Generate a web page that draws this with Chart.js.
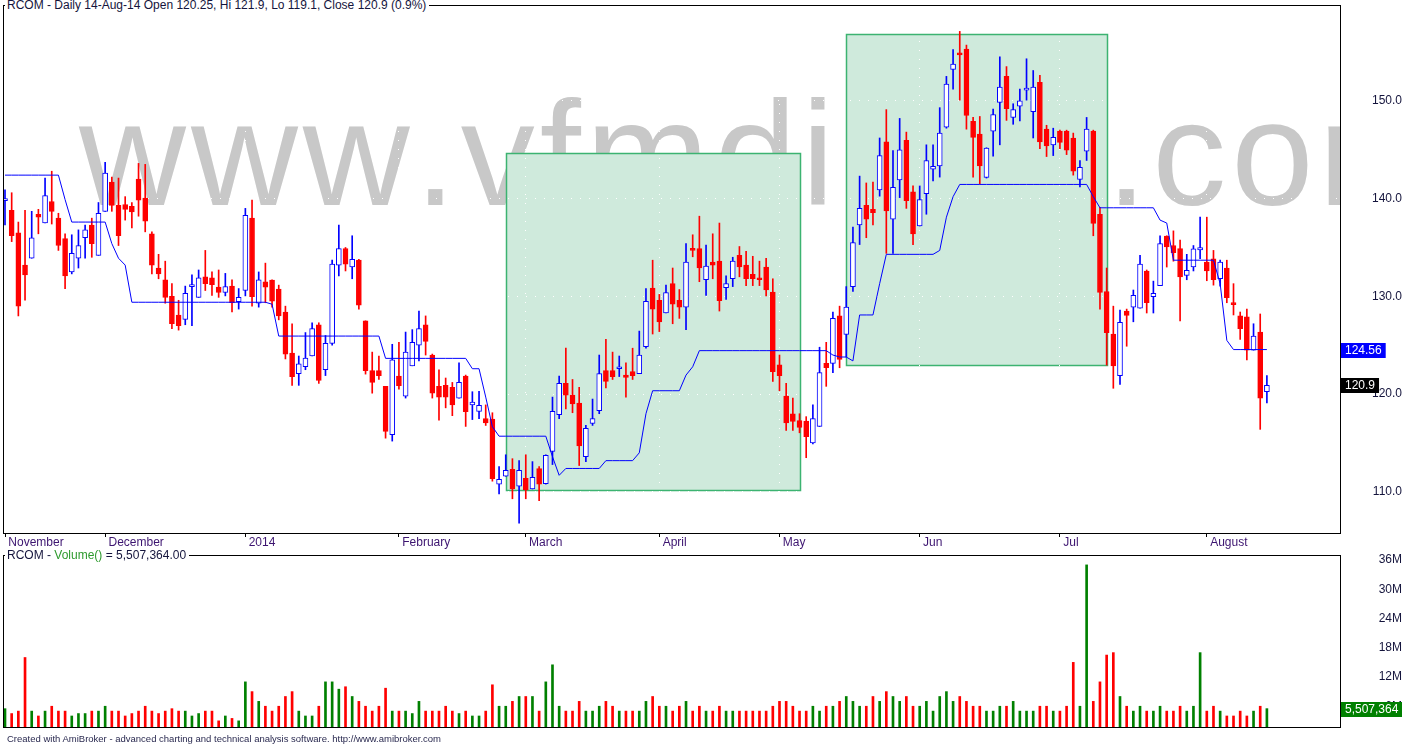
<!DOCTYPE html>
<html>
<head>
<meta charset="utf-8">
<script src="https://cdn.jsdelivr.net/npm/chart.js@4"></script>
<style>
  html, body { margin: 0; padding: 0; background: #fff; }
  body { width: 1402px; height: 746px; position: relative; overflow: hidden; font-family: "Liberation Sans", Arial, sans-serif; }
  #priceWrap { position: absolute; left: 0; top: 0; }
  #volWrap { position: absolute; left: 0; top: 549px; }
  .title { position: absolute; background: #fff; font-size: 12px; line-height: 13px; white-space: nowrap; color: #14143c; padding: 0 3px 0 2px; }
  #priceTitle { left: 5px; top: -1px; }
  #volTitle { left: 5px; top: 549px; }
  #footer { position: absolute; left: 7px; top: 733px; font-size: 9.5px; color: #2a2a50; white-space: nowrap; }
</style>
</head>
<body>
<div id="priceWrap"><canvas id="price" width="1402" height="549"></canvas></div>
<div id="volWrap"><canvas id="vol" width="1402" height="197"></canvas></div>
<div id="priceTitle" class="title">RCOM - Daily 14-Aug-14 Open 120.25, Hi 121.9, Lo 119.1, Close 120.9 (0.9%)</div>
<div id="volTitle" class="title">RCOM - <span style="color:#2e9a2e">Volume()</span> = 5,507,364.00</div>
<div id="footer">Created with AmiBroker - advanced charting and technical analysis software. http://www.amibroker.com</div>

<script>
// daily bars, 8-Nov-2013 .. 14-Aug-2014 (index = trading day)
const opens = [
  139.8,138.8,136.5,133.2,133.9,138.4,137.5,139.7,138.0,135.9,
  132.5,133.9,136.0,137.3,134.2,138.7,141.7,139.3,139.4,139.2,
  142.0,140.05,136.4,132.9,131.7,130.0,128.1,127.65,131.0,129.9,
  132.0,131.9,130.95,130.4,131.05,129.45,130.6,138.0,129.3,131.5,
  131.67,130.75,128.4,124.2,122.1,122.8,123.9,127.1,122.5,125.2,
  133.2,134.9,133.0,133.7,127.5,122.4,122.4,120.8,115.85,121.85,
  119.8,122.9,125.0,127.1,124.0,120.8,120.9,120.7,119.6,121.85,
  118.9,118.24,117.5,117.45,110.8,111.6,112.3,110.6,111.4,110.3,
  112.4,110.84,114.15,117.9,121.1,119.9,119.1,113.6,117.0,118.3,
  122.4,122.4,122.6,121.95,122.3,122.1,124.85,130.85,129.6,128.3,
  131.3,129.6,128.9,134.9,134.9,131.7,133.5,133.6,130.9,131.8,
  134.2,133.2,132.25,131.9,133.0,130.44,123.0,119.8,118.0,117.3,
  117.25,115.0,116.7,123.15,123.15,128.0,126.1,131.0,137.3,139.3,
  138.9,140.9,145.8,137.9,141.9,145.95,140.7,137.2,140.5,143.0,
  143.35,147.3,153.2,154.9,155.3,147.9,146.6,142.16,146.9,149.84,
  152.5,148.3,149.46,151.1,148.9,151.9,147.1,145.5,146.9,146.9,
  146.2,141.96,144.86,146.9,138.4,130.5,126.15,121.9,128.5,128.9,
  128.8,132.6,129.96,131.1,136.16,135.2,134.9,132.15,133.0,134.76,
  133.5,133.85,131.8,132.9,129.25,128.0,127.9,124.5,126.35,120.25
];
const highs = [
  140.9,140.6,137.6,138.8,138.7,138.9,142.1,142.8,138.5,136.4,
  136.3,136.8,137.3,138.0,139.6,143.7,142.2,142.1,140.2,139.6,
  143.6,143.5,136.6,134.3,133.6,131.3,129.6,131.05,132.2,132.7,
  134.7,132.5,132.7,132.35,131.7,130.8,139.0,139.85,132.5,133.4,
  131.7,131.15,129.0,127.2,123.9,126.3,127.3,127.3,126.0,133.7,
  137.3,135.0,136.2,133.8,127.5,124.3,123.9,120.8,125.1,125.3,
  126.35,126.6,128.5,128.0,124.1,122.5,121.65,121.2,123.2,121.95,
  120.25,120.3,118.9,118.1,112.6,113.8,113.4,113.2,113.8,113.1,
  112.6,113.8,119.7,121.85,124.7,121.5,120.7,116.8,119.5,124.0,
  125.6,124.3,123.9,123.2,124.7,126.45,130.8,133.7,130.2,131.15,
  132.9,130.7,135.4,136.3,138.2,135.25,136.4,137.5,132.1,134.0,
  135.1,134.6,134.1,133.6,133.9,131.8,124.0,121.1,119.6,118.0,
  117.7,118.9,124.8,125.3,128.4,129.0,131.0,137.1,142.3,141.6,
  141.7,146.2,149.1,144.9,148.2,146.8,141.3,141.3,145.5,145.5,
  149.3,152.5,155.25,157.1,155.7,148.3,148.4,145.2,149.15,154.5,
  153.5,149.7,151.2,154.3,153.1,152.6,147.5,147.2,147.0,147.0,
  146.7,143.9,148.3,147.0,139.1,132.9,129.0,128.6,128.7,130.65,
  134.2,132.7,131.56,136.2,136.2,136.7,135.75,134.3,135.2,138.1,
  138.1,134.7,133.7,133.7,131.3,128.4,128.7,127.2,128.2,121.9
];
const lows = [
  137.3,135.6,128.0,129.6,133.9,136.4,137.5,137.4,134.7,130.8,
  132.3,132.9,133.9,134.0,134.2,138.7,138.7,135.2,137.8,137.0,
  138.2,136.6,132.3,131.8,129.3,126.7,126.55,127.1,127.0,129.9,
  130.6,130.1,129.9,130.05,128.4,128.7,130.05,129.0,128.9,129.35,
  128.9,127.6,123.6,120.9,120.9,122.5,123.9,121.1,121.9,125.0,
  132.1,132.6,131.8,128.7,122.05,120.1,121.5,115.5,115.2,120.5,
  119.6,122.9,123.4,124.0,119.6,117.35,118.6,117.8,119.6,116.7,
  117.4,117.5,116.8,111.1,109.8,111.6,109.3,106.8,109.3,110.3,
  109.1,110.8,112.8,117.5,118.5,118.1,112.7,113.1,116.8,118.0,
  120.65,121.5,121.8,119.7,121.5,122.1,124.7,126.15,126.4,128.3,
  127.2,127.75,126.6,134.05,131.5,130.1,131.8,128.5,129.7,131.0,
  132.0,131.1,131.1,131.1,130.05,121.3,120.35,116.3,116.3,116.05,
  113.5,114.9,116.7,120.8,122.2,122.7,123.8,130.5,135.3,136.0,
  137.3,140.25,134.4,134.4,140.1,139.0,135.3,137.2,138.4,141.8,
  142.2,147.2,151.2,150.07,147.1,142.2,141.5,142.1,144.35,145.5,
  148.0,147.6,147.95,150.07,146.2,145.1,144.3,144.4,145.1,144.5,
  142.4,141.2,143.9,136.2,128.7,122.97,120.6,121.0,124.9,127.4,
  128.8,128.3,128.3,131.1,133.0,133.6,127.5,131.7,132.6,133.85,
  131.6,131.15,131.05,129.35,128.1,125.6,123.5,124.5,116.4,119.1
];
const closes = [
  139.9,136.2,129.0,132.2,136.0,138.1,140.3,138.7,135.2,132.1,
  134.4,135.2,136.8,135.4,138.5,142.6,139.3,136.2,138.9,138.65,
  139.85,137.7,133.2,132.3,129.9,127.2,127.0,130.3,131.1,131.9,
  131.3,131.2,130.4,131.0,129.35,129.9,138.3,129.96,131.7,130.95,
  129.5,128.0,124.1,121.8,123.1,123.7,126.7,121.4,125.2,133.3,
  134.9,133.3,133.8,129.1,122.4,121.2,121.9,116.2,123.5,120.86,
  124.3,125.3,126.7,125.4,120.1,119.7,119.7,118.9,121.2,118.2,
  119.2,118.85,117.07,111.35,111.3,112.2,110.3,112.2,110.2,111.5,
  110.8,113.74,118.24,121.1,119.9,119.0,114.7,116.5,117.5,122.1,
  121.3,121.8,122.7,121.7,121.9,124.0,129.5,128.7,127.4,130.4,
  129.2,128.9,133.5,134.7,132.9,133.1,133.2,129.55,131.3,133.6,
  133.0,131.8,131.8,131.7,130.67,122.3,121.9,117.07,117.2,116.6,
  115.64,117.5,122.2,122.7,127.75,123.55,128.9,135.5,139.0,137.9,
  138.55,144.4,138.75,141.15,145.0,139.8,136.4,139.9,143.9,143.3,
  146.7,151.7,153.75,154.7,148.5,146.26,143.35,145.16,148.6,151.4,
  149.2,149.1,150.0,151.2,151.4,145.8,145.4,146.26,145.75,144.96,
  142.8,143.2,147.1,137.46,130.4,126.3,122.9,127.35,128.06,130.1,
  133.3,129.35,130.3,135.4,135.07,134.46,132.0,132.66,134.87,135.0,
  132.6,131.7,133.5,129.86,129.15,126.7,124.5,125.94,119.6,120.9
];
// trailing stop line (blue)
const stopLine = [
  142.4,142.4,142.4,142.4,142.4,142.4,142.4,142.4,142.4,139.9,
  137.6,137.6,137.6,137.6,137.6,137.6,135.4,133.9,133.2,129.4,
  129.4,129.4,129.4,129.4,129.4,129.4,129.4,129.4,129.4,129.4,
  129.4,129.4,129.4,129.4,129.4,129.4,129.4,129.4,129.4,129.4,
  129.2,125.94,125.94,125.94,125.94,125.94,125.94,125.94,125.94,125.94,
  125.94,125.94,125.94,125.94,125.94,125.94,125.94,123.66,123.66,123.66,
  123.66,123.66,123.66,123.66,123.66,123.66,123.66,123.66,123.66,123.66,
  122.6,122.6,119.7,116.67,115.7,115.7,115.7,115.7,115.7,115.7,
  115.7,115.7,113.6,111.7,112.4,112.4,112.4,112.4,112.4,112.4,
  113.2,113.2,113.2,113.2,113.2,114.0,118.0,120.35,120.35,120.35,
  120.35,120.35,121.95,122.8,124.45,124.45,124.45,124.45,124.45,124.45,
  124.45,124.45,124.45,124.45,124.45,124.45,124.45,124.45,124.45,124.45,
  124.45,124.45,124.45,124.45,124.0,123.8,123.8,123.4,128.1,128.1,
  128.1,131.3,134.3,134.3,134.3,134.3,134.3,134.3,134.3,134.3,
  134.7,138.1,140.2,141.45,141.45,141.45,141.45,141.45,141.45,141.45,
  141.45,141.45,141.45,141.45,141.45,141.45,141.45,141.45,141.45,141.45,
  141.45,141.45,141.45,140.2,139.06,139.06,139.06,139.06,139.06,139.06,
  139.06,139.06,139.06,137.8,137.5,133.7,133.7,133.7,133.7,133.7,
  133.7,133.7,131.3,125.5,124.56,124.56,124.56,124.56,124.56,124.56
];
// volume, millions
const volumes = [
  5.5,4.5,5,16,5,4,5,6,5,5,
  4,4.5,4.5,5,5,6,5,5,4,4.5,
  5,6,5,4.5,5,5.5,5,5,4,4.5,
  5,5,3,4,3.5,3,11,9,7,6,
  5,6,8,9,5,4,4,6,11,11,
  9.5,10,8,7,6,5,6,9.7,5,5,
  5,4.5,7,5,5,5,6,5,4.5,5,
  4,4,5,10.4,6,6,7,8,8,8,
  5,11,14.5,6,5,5,7,5,5,6,
  7,6,5,5,5,5,7,8,6,6,
  5,6,7,5,6,5,5,6,5,5,
  5,5,5,5,5,6,7,7,6,5,
  5,6,5,6,6,7,8,7,6,6,
  8,7,9,8,7,8,6,6,7,5,
  8,9,7,8,7,6,6,5,5,6,
  6,7,5,5,5,6,6,5,5,6,
  15,6,35,7,11,16.5,17,8,6,5,
  6,5,5,6,5,5,6,5,6,17,
  5,6,5,4,4,5,4,5,6,5.507364
];
const monthIdx = [0, 15, 36, 59, 78, 98, 116, 137, 158, 180];
const monthNames = ['November', 'December', '2014', 'February', 'March', 'April', 'May', 'Jun', 'Jul', 'August'];
const priceTicks = [110, 120, 130, 140, 150];
const volTicks = [6, 12, 18, 24, 30, 36];
// shaded zones: bar index range and price range
const zoneStart = [75, 126];
const zoneEnd = [119, 165];
const zoneLow = [110.2, 122.97];
const zoneHigh = [144.7, 156.8];

const FONT = '"Liberation Sans", Arial, sans-serif';
const idx = closes.map((c, i) => i);
const up = closes.map((c, i) => c > opens[i]);
const last = closes.length - 1;
const X_MIN = -0.15, X_MAX = 200.1;

function zeroPad(s) { s.paddingTop = 0; s.paddingBottom = 0; s.paddingLeft = 0; s.paddingRight = 0; }

const priceDeco = {
  id: 'priceDeco',
  beforeDraw(chart) {
    const { ctx, chartArea: a, scales: { x, y } } = chart;
    ctx.save();
    ctx.beginPath();
    ctx.rect(a.left, a.top, a.right - a.left, a.bottom - a.top);
    ctx.clip();
    // watermark, letter-spaced so "com" lands where it does in the original
    ctx.font = '148px "Liberation Sans"';
    ctx.fillStyle = '#c8c8c8';
    const text = 'www.vfmdirect.com';
    const head = 'www.vfmdirect.';
    const sp = (1144 - 79 - ctx.measureText(head).width) / head.length;
    let px = 79;
    for (const ch of text) {
      ctx.fillText(ch, px, 205);
      px += ctx.measureText(ch).width + sp;
    }
    // zones
    for (let k = 0; k < zoneStart.length; k++) {
      const x0 = Math.round(x.getPixelForValue(zoneStart[k])) + 0.5;
      const x1 = Math.round(x.getPixelForValue(zoneEnd[k])) + 0.5;
      const y0 = Math.round(y.getPixelForValue(zoneHigh[k])) + 0.5;
      const y1 = Math.round(y.getPixelForValue(zoneLow[k])) + 0.5;
      ctx.fillStyle = '#cfeadc';
      ctx.fillRect(x0, y0, x1 - x0, y1 - y0);
      ctx.strokeStyle = '#3cb371';
      ctx.lineWidth = 1.5;
      ctx.strokeRect(x0, y0, x1 - x0, y1 - y0);
    }
    ctx.restore();
  },
  afterDraw(chart) {
    const { ctx, chartArea: a, scales: { y } } = chart;
    ctx.save();
    ctx.strokeStyle = '#000';
    ctx.lineWidth = 1;
    ctx.strokeRect(a.left - 0.5, a.top + 0.5, a.right - a.left, a.bottom - a.top);
    ctx.font = '12px ' + FONT;
    ctx.textBaseline = 'middle';
    const tags = [
      { v: stopLine[last], bg: '#0000ff', t: stopLine[last].toFixed(2) },
      { v: closes[last], bg: '#000000', t: String(closes[last]) }
    ];
    tags.forEach(tg => {
      const yy = Math.round(y.getPixelForValue(tg.v));
      const tw = ctx.measureText(tg.t).width;
      ctx.fillStyle = tg.bg;
      ctx.fillRect(a.right, yy - 7, tw + 8, 15);
      ctx.fillStyle = '#fff';
      ctx.fillText(tg.t, a.right + 4, yy + 1);
    });
    ctx.restore();
  }
};

new Chart(document.getElementById('price'), {
  data: {
    datasets: [
      {
        type: 'line',
        data: idx.map(i => ({ x: i, y: stopLine[i] })),
        borderColor: '#0000ff', borderWidth: 1, pointRadius: 0, tension: 0, order: 0
      },
      {
        type: 'bar',
        data: idx.map(i => ({ x: i, y: [opens[i], closes[i]] })),
        backgroundColor: up.map(u => u ? '#ffffff' : '#ff0000'),
        borderColor: up.map(u => u ? '#0000ff' : '#ff0000'),
        borderWidth: 1, borderSkipped: false, barThickness: 5, minBarLength: 2,
        grouped: false, order: 1
      },
      {
        type: 'bar',
        data: idx.map(i => ({ x: i, y: [lows[i], highs[i]] })),
        backgroundColor: up.map(u => u ? '#0000ff' : '#ff0000'),
        borderWidth: 0, barThickness: 1, grouped: false, order: 2
      }
    ]
  },
  options: {
    responsive: false, animation: false, events: [],
    layout: { padding: { left: 4, top: 5, right: 0, bottom: 0 } },
    plugins: { legend: { display: false }, tooltip: { enabled: false } },
    scales: {
      x: {
        type: 'linear', min: X_MIN, max: X_MAX, offset: false,
        afterBuildTicks: s => { s.ticks = monthIdx.map(v => ({ value: v })); },
        afterFit: s => { s.height = 16; zeroPad(s); },
        ticks: {
          autoSkip: false, maxRotation: 0, align: 'start', padding: -2,
          color: '#3c1470', font: { size: 12, family: FONT },
          callback: v => ' ' + monthNames[monthIdx.indexOf(v)]
        },
        grid: { offset: false, color: '#ffffff', lineWidth: 1, tickColor: '#000', tickLength: 4, drawTicks: true, borderDash: [1, 8] },
        border: { display: false, dash: [1, 8] }
      },
      y: {
        position: 'right', min: 105.8, max: 159.8,
        afterBuildTicks: s => { s.ticks = priceTicks.map(v => ({ value: v })); },
        afterFit: s => { s.width = 61; zeroPad(s); },
        ticks: { crossAlign: 'far', padding: 28, color: '#14143c', font: { size: 12, family: FONT }, callback: v => v.toFixed(1) },
        grid: { color: '#ffffff', drawTicks: false, borderDash: [1, 8] },
        border: { display: false, dash: [1, 8] }
      }
    }
  },
  plugins: [priceDeco]
});

const volDeco = {
  id: 'volDeco',
  afterDraw(chart) {
    const { ctx, chartArea: a, scales: { y } } = chart;
    ctx.save();
    ctx.strokeStyle = '#000';
    ctx.lineWidth = 1;
    ctx.strokeRect(a.left - 0.5, a.top + 0.5, a.right - a.left, a.bottom - a.top);
    const v = volumes[last];
    const t = Math.round(v * 1e6).toLocaleString('en-US');
    const yy = Math.round(y.getPixelForValue(v));
    ctx.font = '12px ' + FONT;
    ctx.textBaseline = 'middle';
    ctx.fillStyle = '#008000';
    ctx.fillRect(a.right, yy - 7, 70, 15);
    ctx.fillStyle = '#fff';
    ctx.fillText(t, a.right + 4, yy + 1);
    ctx.restore();
  }
};

new Chart(document.getElementById('vol'), {
  data: {
    datasets: [{
      type: 'bar',
      data: idx.map(i => ({ x: i, y: volumes[i] })),
      backgroundColor: up.map(u => u ? '#008000' : '#ff0000'),
      barThickness: 2, grouped: false
    }]
  },
  options: {
    responsive: false, animation: false, events: [],
    layout: { padding: { left: 4, top: 6, right: 0, bottom: 19 } },
    plugins: { legend: { display: false }, tooltip: { enabled: false } },
    scales: {
      x: { type: 'linear', min: X_MIN, max: X_MAX, offset: false, display: false },
      y: {
        position: 'right', min: 1.74, max: 37.03,
        afterBuildTicks: s => { s.ticks = volTicks.map(v => ({ value: v })); },
        afterFit: s => { s.width = 61; zeroPad(s); },
        ticks: { crossAlign: 'far', padding: 35, color: '#14143c', font: { size: 12, family: FONT }, callback: v => v + 'M' },
        grid: { display: false },
        border: { display: false }
      }
    }
  },
  plugins: [volDeco]
});
</script>
</body>
</html>
